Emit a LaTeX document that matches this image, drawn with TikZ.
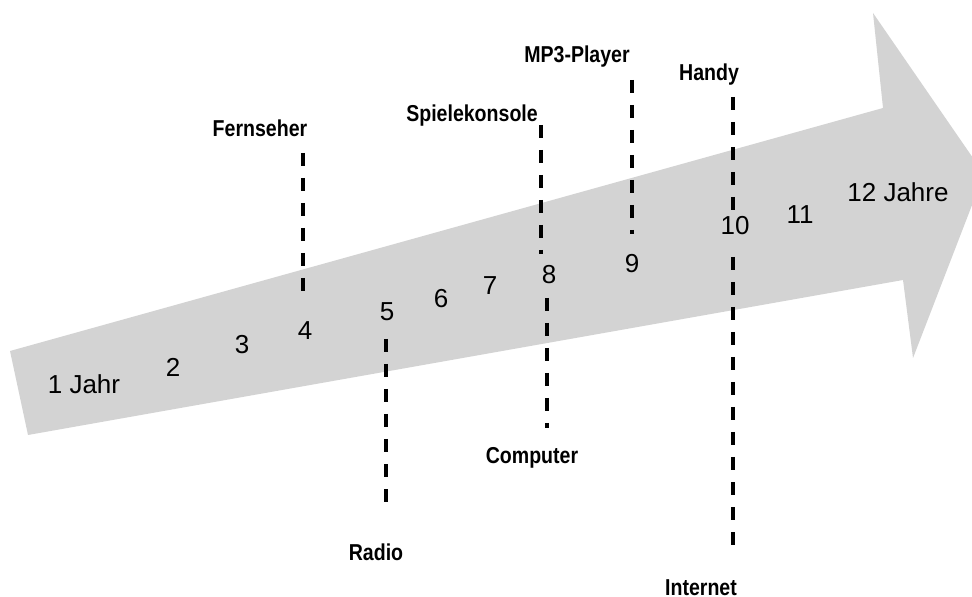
\documentclass[tikz,border=0pt]{standalone}
\usepackage{fontspec}
\setmainfont{Liberation Sans}
\newfontfamily\narrowfont[FakeStretch=0.85]{Liberation Sans}
\begin{document}
\begin{tikzpicture}[x=0.5pt,y=-0.5pt,
        year/.style={anchor=base,inner sep=0pt,font=\fontsize{13}{15}\selectfont},
        device/.style={anchor=base,inner sep=0pt,font=\narrowfont\bfseries\fontsize{11.5}{13}\selectfont},
        marker/.style={line width=1.75pt,dash pattern=on 6.5pt off 6pt}]
                \definecolor{arrowgray}{RGB}{211,211,211}
                
                \useasboundingbox (0,0) rectangle (972,597);
                
                \fill [arrowgray] (10,351) -- (883,108) -- (873,13) -- (984,174) -- (913,358) -- (903,280) -- (28,435) -- cycle;
                
                \node [year] (n1) at (84,394) {1 Jahr};
                \foreach \x/\b [count=\i from 2] in {173/377,242/354,305/340,387/321,441/308,490/295,549/284,632/273,735/235,800/224}{
                    \node [year] (n\i) at (\x,\b) {\i};
                }
                \node [year] (n12) at (898,202) {12 Jahre};
                
                \node [device] (fernseher) at (260,137) {Fernseher};
                \node [device] (konsole) at (472,122) {Spielekonsole};
                \node [device] (mp3) at (577,63) {MP3-Player};
                \node [device] (handy) at (709,81) {Handy};
                \node [device] (radio) at (376,560) {Radio};
                \node [device] (computer) at (532,464) {Computer};
                \node [device] (internet) at (701,595) {Internet};
                
                \coordinate (fernA) at (303,153);
                \coordinate (fernB) at (303,295);
                \coordinate (konsA) at (541,125);
                \coordinate (konsB) at (541,254);
                \coordinate (mp3A) at (632,80);
                \coordinate (mp3B) at (632,234);
                \coordinate (handyA) at (733,97);
                \coordinate (handyB) at (733,214);
                \coordinate (radioA) at (386,339);
                \coordinate (radioB) at (386,505);
                \coordinate (compA) at (547,298);
                \coordinate (compB) at (547,428);
                \coordinate (netA) at (733,257);
                \coordinate (netB) at (733,550);
                
                \draw [marker] (fernA) -- (fernB);
                \draw [marker] (konsA) -- (konsB);
                \draw [marker] (mp3A) -- (mp3B);
                \draw [marker] (handyA) -- (handyB);
                \draw [marker] (radioA) -- (radioB);
                \draw [marker] (compA) -- (compB);
                \draw [marker] (netA) -- (netB);
                
            \end{tikzpicture}
\end{document}
